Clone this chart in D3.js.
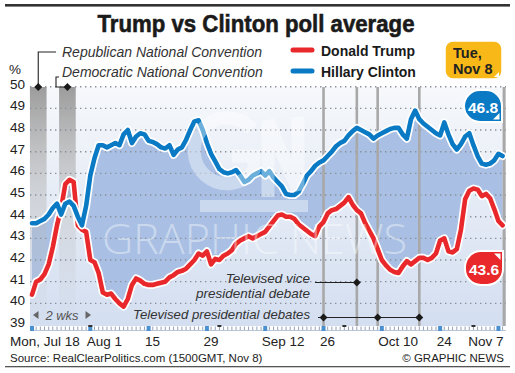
<!DOCTYPE html>
<html>
<head>
<meta charset="utf-8">
<script src="https://cdn.jsdelivr.net/npm/d3@7"></script>
<style>
  body { margin: 0; background: #fff; }
  svg { display: block; font-family: "Liberation Sans", Arial, sans-serif; }
</style>
</head>
<body>
<svg id="chart" width="515" height="373"></svg>
<script>
// poll averages, one value per day from Mon Jul 18 to Tue Nov 8 2016
const startDay = "2016-07-18";
const clinton = [43.7,43.7,43.8,43.9,44.1,44.4,44.6,44.1,44.6,44.7,
  44.5,44.0,43.6,44.5,45.9,46.7,47.3,47.3,47.2,47.3,
  47.4,47.3,47.8,48.0,47.4,47.7,47.85,47.8,47.5,47.45,
  47.35,47.2,47.15,47.3,46.85,47.1,47.2,47.55,48.0,48.4,
  48.45,48.0,47.4,46.9,46.55,46.2,46.05,46.0,46.05,46.15,
  45.9,45.6,45.7,45.9,46.0,46.1,45.9,46.1,45.8,45.6,
  45.4,45.05,45.0,45.0,45.15,45.5,45.9,46.1,46.35,46.5,
  46.6,46.8,47.0,47.25,47.4,47.5,47.75,47.95,48.1,48.0,
  47.9,47.8,47.6,47.75,47.85,47.95,48.05,48.1,48.1,47.8,
  47.6,48.5,48.9,48.5,48.3,48.15,48.0,47.85,47.75,48.35,
  47.8,47.35,47.1,47.35,47.7,47.85,47.3,46.8,46.45,46.4,
  46.45,46.6,46.9,46.8];
const trump = [40.4,41.0,41.1,41.35,41.8,42.6,43.6,44.4,45.5,45.7,
  45.6,43.6,43.4,43.3,42.0,41.9,41.4,40.5,40.4,40.45,
  40.2,40.0,39.85,40.2,40.85,41.15,41.05,40.9,40.85,40.85,
  40.9,40.95,41.0,41.2,41.3,41.45,41.5,41.6,41.8,42.0,
  42.3,42.2,42.4,41.8,42.05,42.0,42.2,42.3,42.45,42.75,
  42.9,43.0,43.1,43.0,43.1,43.2,43.3,43.55,43.8,44.05,
  44.1,44.0,44.0,43.9,43.65,43.5,43.35,43.2,43.1,43.55,
  43.75,44.15,44.3,44.35,44.5,44.65,44.9,44.55,44.3,44.15,
  43.7,43.35,43.0,42.5,42.0,41.75,41.55,41.45,41.4,41.7,
  41.95,41.8,41.95,42.1,42.1,42.0,42.1,42.3,42.9,43.0,
  42.4,42.35,42.5,43.4,44.8,45.2,45.3,45.25,44.95,45.05,
  44.85,44.35,43.8,43.6];

const yTicks = [39, 40, 41, 42, 43, 44, 45, 46, 47, 48, 49, 50];
const xTickDates = ["2016-07-18","2016-08-01","2016-08-15","2016-08-29","2016-09-12",
  "2016-09-26","2016-10-10","2016-10-24","2016-11-07"];
const xTickLabels = ["Mon, Jul 18","Aug 1","15","29","Sep 12","26","Oct 10","24","Nov 7"];
const monthStarts = ["2016-08-01","2016-09-01","2016-10-01","2016-11-01"];
const conventions = [
  { name: "Republican National Convention", start: "2016-07-18", end: "2016-07-21" },
  { name: "Democratic National Convention", start: "2016-07-25", end: "2016-07-28" }
];
const presDebates = ["2016-09-26","2016-10-09","2016-10-19"];
const vpDebate = "2016-10-04";
const electionDay = "2016-11-08";

const parse = d3.timeParse("%Y-%m-%d");
const day0 = parse(startDay);
const rows = clinton.map((c, i) => ({ date: d3.timeDay.offset(day0, i), c: c, t: trump[i] }));

const svg = d3.select("#chart");
const plot = { left: 30, right: 506, top: 87, bottom: 326 };

const x = d3.scaleTime().domain([day0, parse(electionDay)]).range([32, 502.6]);
const y = d3.scaleLinear().domain([39, 50]).range([325, 86.7]);

const defs = svg.append("defs");
const bg = defs.append("linearGradient").attr("id", "bg").attr("x1", 0).attr("y1", 0).attr("x2", 0).attr("y2", 1);
bg.append("stop").attr("offset", 0).attr("stop-color", "#f6f8fb");
bg.append("stop").attr("offset", 1).attr("stop-color", "#d3def0");
const band = defs.append("linearGradient").attr("id", "band").attr("x1", 0).attr("y1", 0).attr("x2", 0).attr("y2", 1);
band.append("stop").attr("offset", 0).attr("stop-color", "#9c9c9c").attr("stop-opacity", 1);
band.append("stop").attr("offset", 0.45).attr("stop-color", "#b4b4b4").attr("stop-opacity", 0.45);
band.append("stop").attr("offset", 1).attr("stop-color", "#c8c8c8").attr("stop-opacity", 0);

// top rule and title
svg.append("rect").attr("x", 5).attr("y", 4).attr("width", 505).attr("height", 2.6).attr("fill", "#333");
svg.append("text").attr("x", 256).attr("y", 32).attr("text-anchor", "middle")
  .attr("textLength", 317).attr("lengthAdjust", "spacingAndGlyphs")
  .style("font-family", "'Liberation Sans Narrow', 'Liberation Sans', sans-serif")
  .style("font-weight", "bold").style("font-size", "24.5px").attr("fill", "#1a1a1a")
  .attr("stroke", "#1a1a1a").attr("stroke-width", 0.6)
  .text("Trump vs Clinton poll average");

// plot background
svg.append("rect").attr("x", plot.left).attr("y", plot.top)
  .attr("width", plot.right - plot.left).attr("height", plot.bottom - plot.top).attr("fill", "url(#bg)");

// lead area between the lines
const area = d3.area().x(d => x(d.date)).y0(d => y(d.t)).y1(d => y(d.c));
svg.append("path").datum(rows).attr("d", area).attr("fill", "#a9c0e4");

// convention bands
conventions.forEach(cv => {
  const x0 = x(d3.timeHour.offset(parse(cv.start), -12));
  const x1 = x(d3.timeHour.offset(parse(cv.end), 12));
  svg.append("rect").attr("x", x0).attr("y", plot.top).attr("width", x1 - x0)
    .attr("height", plot.bottom - plot.top).attr("fill", "url(#band)");
});

// grid
svg.append("g").selectAll("line").data(yTicks.filter(v => v > 39)).join("line")
  .attr("x1", plot.left).attr("x2", plot.right)
  .attr("y1", d => y(d)).attr("y2", d => y(d))
  .attr("stroke", "#8a8f99").attr("stroke-width", 1.4).attr("stroke-dasharray", "1.4,3.6");

// y labels
const yAxis = svg.append("g").attr("transform", `translate(${plot.left - 5},-3)`)
  .call(d3.axisLeft(y).tickValues(yTicks).tickSize(0).tickPadding(0));
yAxis.select(".domain").remove();
yAxis.selectAll("text").style("font-size", "13.5px").style("font-family", "'Liberation Sans', Arial, sans-serif").attr("fill", "#222");
svg.append("text").attr("x", 15).attr("y", 74).attr("text-anchor", "middle")
  .style("font-size", "13.5px").attr("fill", "#222").text("%");

// event lines
const eventDates = presDebates.concat([vpDebate]);
svg.append("g").selectAll("line").data(eventDates).join("line")
  .attr("x1", d => x(parse(d))).attr("x2", d => x(parse(d)))
  .attr("y1", plot.top).attr("y2", plot.bottom)
  .attr("stroke", "#a8a8a8").attr("stroke-width", 2.6);
svg.append("line").attr("x1", x(parse(electionDay)) + 1.5).attr("x2", x(parse(electionDay)) + 1.5)
  .attr("y1", plot.top).attr("y2", plot.bottom).attr("stroke", "#a8a8a8").attr("stroke-width", 3);

// series lines
const lineC = d3.line().x(d => x(d.date)).y(d => y(d.c));
const lineT = d3.line().x(d => x(d.date)).y(d => y(d.t));
[[lineT, "#e8282b"], [lineC, "#0a7ac4"]].forEach(([ln, col]) => {
  svg.append("path").datum(rows).attr("d", ln).attr("fill", "none")
    .attr("stroke", "#fff").attr("stroke-width", 8).attr("stroke-linejoin", "round").attr("stroke-linecap", "round");
  svg.append("path").datum(rows).attr("d", ln).attr("fill", "none")
    .attr("stroke", col).attr("stroke-width", 4.6).attr("stroke-linejoin", "round").attr("stroke-linecap", "round");
});

// watermark: GN logo drawn as strokes, wordmark as text
const wm = svg.append("g").attr("opacity", 0.4);
wm.append("path").attr("d", "M252,129A33,33 0 1 0 254,170V156H232")
  .attr("fill", "none").attr("stroke", "#fff").attr("stroke-width", 13);
wm.append("path").attr("d", "M268,197V121L298,190V117")
  .attr("fill", "none").attr("stroke", "#fff").attr("stroke-width", 13);
wm.append("rect").attr("x", 200).attr("y", 200).attr("width", 108).attr("height", 12).attr("fill", "#fff");
wm.append("text").attr("x", 102).attr("y", 254).attr("textLength", 305).attr("lengthAdjust", "spacingAndGlyphs")
  .attr("fill", "#fff").style("font-size", "42px").style("font-family", "'Open Sans', sans-serif").style("font-weight", 300)
  .text("GRAPHIC NEWS");

// bottom axis strip
const dayTicks = d3.timeDay.range(day0, d3.timeDay.offset(parse(electionDay), 1));
svg.append("g").selectAll("line").data(dayTicks).join("line")
  .attr("x1", d => x(d)).attr("x2", d => x(d)).attr("y1", 326.5).attr("y2", 330.5)
  .attr("stroke", "#8796b0").attr("stroke-width", 0.9);
svg.append("line").attr("x1", plot.left).attr("x2", plot.right).attr("y1", 330.5).attr("y2", 330.5)
  .attr("stroke", "#b9c4d6").attr("stroke-width", 1);
svg.append("g").selectAll("rect").data(xTickDates).join("rect")
  .attr("x", d => x(parse(d)) - 2).attr("y", 326).attr("width", 4).attr("height", 5).attr("fill", "#4a8fd0");
svg.append("g").selectAll("rect").data(monthStarts).join("rect")
  .attr("x", d => x(parse(d)) - 2).attr("y", 325).attr("width", 4).attr("height", 2).attr("fill", "#333");

// x labels: start just left of the tick, first and last pinned to the edges
const last = xTickDates.length - 1;
svg.append("g").selectAll("text").data(xTickDates).join("text")
  .attr("x", (d, i) => i === 0 ? x(parse(d)) - 22 : i === last ? x(parse(d)) + 5 : x(parse(d)) - 3.5)
  .attr("y", 346)
  .attr("text-anchor", (d, i) => i === last ? "end" : "start")
  .style("font-size", "13.5px").attr("fill", "#222")
  .text((d, i) => xTickLabels[i]);

// convention annotations
const ital = sel => sel.style("font-style", "italic").attr("fill", "#333");
svg.append("text").attr("x", 62).attr("y", 57).style("font-size", "14px").call(ital).text(conventions[0].name);
svg.append("text").attr("x", 62).attr("y", 77).style("font-size", "14px").call(ital).text(conventions[1].name);
const rncX = x(d3.timeHour.offset(parse(conventions[0].start), 36));
const dncX = x(d3.timeHour.offset(parse(conventions[1].start), 36));
svg.append("path").attr("d", `M56,52H${rncX}V${plot.top}`).attr("fill", "none").attr("stroke", "#222").attr("stroke-width", 1.1);
svg.append("path").attr("d", `M59,77H56V${plot.top}H${dncX}`).attr("fill", "none").attr("stroke", "#222").attr("stroke-width", 1.1);
const diamond = d3.symbol().type(d3.symbolDiamond2).size(40);
[rncX, dncX].forEach(px => svg.append("path").attr("d", diamond).attr("transform", `translate(${px},${plot.top})`).attr("fill", "#1a1a1a"));

// 2 wks
svg.append("path").attr("d", "M33,315L38.5,311V319Z").attr("fill", "#666");
svg.append("path").attr("d", "M91,315L85.5,311V319Z").attr("fill", "#666");
svg.append("text").attr("x", 62).attr("y", 320).attr("text-anchor", "middle").style("font-size", "13px")
  .style("font-style", "italic").attr("fill", "#555").text("2 wks");

// debate annotations
svg.append("text").attr("x", 310).attr("y", 283).attr("text-anchor", "end").style("font-size", "13.5px").call(ital).text("Televised vice");
svg.append("text").attr("x", 310).attr("y", 298).attr("text-anchor", "end").style("font-size", "13.5px").call(ital).text("presidential debate");
svg.append("text").attr("x", 310).attr("y", 319).attr("text-anchor", "end").style("font-size", "13.2px").call(ital).text("Televised presidential debates");
const vpY = 282.5, pdY = 317.5;
svg.append("line").attr("x1", 315).attr("x2", x(parse(vpDebate))).attr("y1", vpY).attr("y2", vpY).attr("stroke", "#222").attr("stroke-width", 1.2);
svg.append("line").attr("x1", 318).attr("x2", x(parse(presDebates[2]))).attr("y1", pdY).attr("y2", pdY).attr("stroke", "#222").attr("stroke-width", 1.2);
svg.append("path").attr("d", diamond).attr("transform", `translate(${x(parse(vpDebate))},${vpY})`).attr("fill", "#1a1a1a");
presDebates.forEach(d => svg.append("path").attr("d", diamond).attr("transform", `translate(${x(parse(d))},${pdY})`).attr("fill", "#1a1a1a"));

// legend
[["Donald Trump", "#e8282b", 50], ["Hillary Clinton", "#0a7ac4", 71]].forEach(([name, col, ly]) => {
  svg.append("line").attr("x1", 293).attr("x2", 312).attr("y1", ly).attr("y2", ly)
    .attr("stroke", "#fff").attr("stroke-width", 8).attr("stroke-linecap", "round");
  svg.append("line").attr("x1", 293).attr("x2", 312).attr("y1", ly).attr("y2", ly)
    .attr("stroke", col).attr("stroke-width", 5).attr("stroke-linecap", "round");
  svg.append("text").attr("x", 321).attr("y", ly + 6).style("font-size", "14px").style("font-weight", "bold")
    .attr("fill", "#1a1a1a").text(name);
});

// election day tag
svg.append("rect").attr("x", 445).attr("y", 41).attr("width", 57).attr("height", 38).attr("rx", 8)
  .attr("fill", "#f8b817").attr("stroke", "#fff").attr("stroke-width", 1.5);
svg.append("path").attr("d", "M499,72V77H494Z").attr("fill", "#fff");
svg.append("text").attr("x", 453).attr("y", 57.5).style("font-size", "14.5px").style("font-weight", "bold").attr("fill", "#222").text("Tue,");
svg.append("text").attr("x", 453).attr("y", 73.5).style("font-size", "14.5px").style("font-weight", "bold").attr("fill", "#222").text("Nov 8");

// end value badges
function badge(x0, y0, w, h, r, sq) {
  const x1 = x0 + w, y1 = y0 + h;
  const rr = k => (k === sq ? 0 : r);
  const p = d3.path();
  p.moveTo(x0 + rr("tl"), y0);
  p.lineTo(x1 - rr("tr"), y0); p.arcTo(x1, y0, x1, y0 + rr("tr"), rr("tr"));
  p.lineTo(x1, y1 - rr("br")); p.arcTo(x1, y1, x1 - rr("br"), y1, rr("br"));
  p.lineTo(x0 + rr("bl"), y1); p.arcTo(x0, y1, x0, y1 - rr("bl"), rr("bl"));
  p.lineTo(x0, y0 + rr("tl")); p.arcTo(x0, y0, x0 + rr("tl"), y0, rr("tl"));
  p.closePath();
  return p.toString();
}
const lastC = clinton[clinton.length - 1], lastT = trump[trump.length - 1];
svg.append("path").attr("d", badge(464, 90, 38, 32, 16, "br")).attr("fill", "#0a7ac4").attr("stroke", "#fff").attr("stroke-width", 2);
svg.append("path").attr("d", "M499.5,113V119.5H493Z").attr("fill", "#fff");
svg.append("text").attr("x", 483).attr("y", 112.5).attr("text-anchor", "middle").style("font-size", "15.5px")
  .style("font-weight", "bold").attr("fill", "#fff").text(lastC.toFixed(1));
svg.append("path").attr("d", badge(465, 251, 38, 34, 16, "tr")).attr("fill", "#e8282b").attr("stroke", "#fff").attr("stroke-width", 2);
svg.append("path").attr("d", "M494,253.5H500.5V260Z").attr("fill", "#fff");
svg.append("text").attr("x", 484).attr("y", 274.5).attr("text-anchor", "middle").style("font-size", "15.5px")
  .style("font-weight", "bold").attr("fill", "#fff").text(lastT.toFixed(1));

// footer
svg.append("text").attr("x", 10).attr("y", 362).style("font-size", "11.5px").attr("fill", "#222")
  .text("Source: RealClearPolitics.com (1500GMT, Nov 8)");
svg.append("text").attr("x", 504).attr("y", 362).attr("text-anchor", "end").style("font-size", "11.5px").attr("fill", "#222")
  .text("© GRAPHIC NEWS");
svg.append("rect").attr("x", 5).attr("y", 366).attr("width", 505).attr("height", 1.3).attr("fill", "#555");
</script>
</body>
</html>
